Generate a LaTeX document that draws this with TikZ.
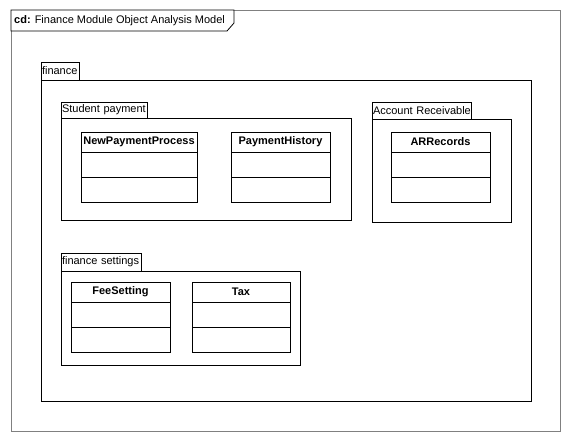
\documentclass[tikz,border=0pt]{standalone}
\usepackage{fontspec}
\setmainfont{Liberation Sans}
\usetikzlibrary{positioning}

\tikzset{
  umlline/.style={draw=black, line width=0.8pt},
  pkgtab/.style={umlline, anchor=north west, outer sep=0pt, inner xsep=1pt,
    inner ysep=0pt, minimum height=18pt, align=left},
  pkgbody/.style={umlline, anchor=north west, outer sep=0pt, inner sep=0pt},
  classhead/.style={umlline, anchor=north west, outer sep=0pt, inner sep=0pt,
    minimum height=20pt, font=\fontsize{11}{12}\selectfont\bfseries},
  classpart/.style={umlline, anchor=north, outer sep=0pt, inner sep=0pt,
    minimum height=25pt}
}

% class box: name, x, y, width, label
\newcommand{\umlclass}[5]{%
  \node[classhead, minimum width=#4] (#1) at (#2,#3) {#5};
  \node[classpart, minimum width=#4, below=0pt of #1.south] (#1-attr) {};
  \node[classpart, minimum width=#4, below=0pt of #1-attr.south] (#1-ops) {};
}

\begin{document}
\begin{tikzpicture}[x=1pt, y=-1pt, font=\fontsize{11}{12}\selectfont]
  \useasboundingbox (0,0) rectangle (570,441);

  % diagram frame
  \draw[draw=black!50, line width=0.8pt] (11,10) rectangle (560,431);
  \draw[umlline, fill=white] (11,10) -- (234,10) -- (234,23) -- (227,31) -- (11,31) -- cycle;
  \node[anchor=west, inner sep=0pt] (title) at (14,21) {\textbf{cd:} Finance Module Object Analysis Model};

  % package finance
  \node[pkgtab, text width=36pt] (financetab) at (41,62) {\mbox{finance}};
  \node[pkgbody, minimum width=490pt, minimum height=321pt] (finance) at (41,80) {};

  % package Student payment
  \node[pkgtab, text width=84pt, minimum height=16pt] (studenttab) at (61,102) {\mbox{Student payment}};
  \node[pkgbody, minimum width=290pt, minimum height=102pt] (student) at (61,118) {};
  \umlclass{newpayment}{81}{132}{116pt}{NewPaymentProcess}
  \umlclass{history}{231}{132}{99pt}{PaymentHistory}

  % package Account Receivable
  \node[pkgtab, text width=97pt, minimum height=17pt] (receivabletab) at (372,102) {\mbox{Account Receivable}};
  \node[pkgbody, minimum width=139pt, minimum height=103pt] (receivable) at (372,119) {};
  \umlclass{arrecords}{391}{132}{99pt}{ARRecords}

  % package finance settings
  \node[pkgtab, text width=78pt] (settingstab) at (61,253) {\mbox{finance settings}};
  \node[pkgbody, minimum width=239pt, minimum height=94pt] (settings) at (61,271) {};
  \umlclass{feesetting}{71}{282}{99pt}{FeeSetting}
  \umlclass{tax}{192}{282}{98pt}{Tax}
\end{tikzpicture}
\end{document}
